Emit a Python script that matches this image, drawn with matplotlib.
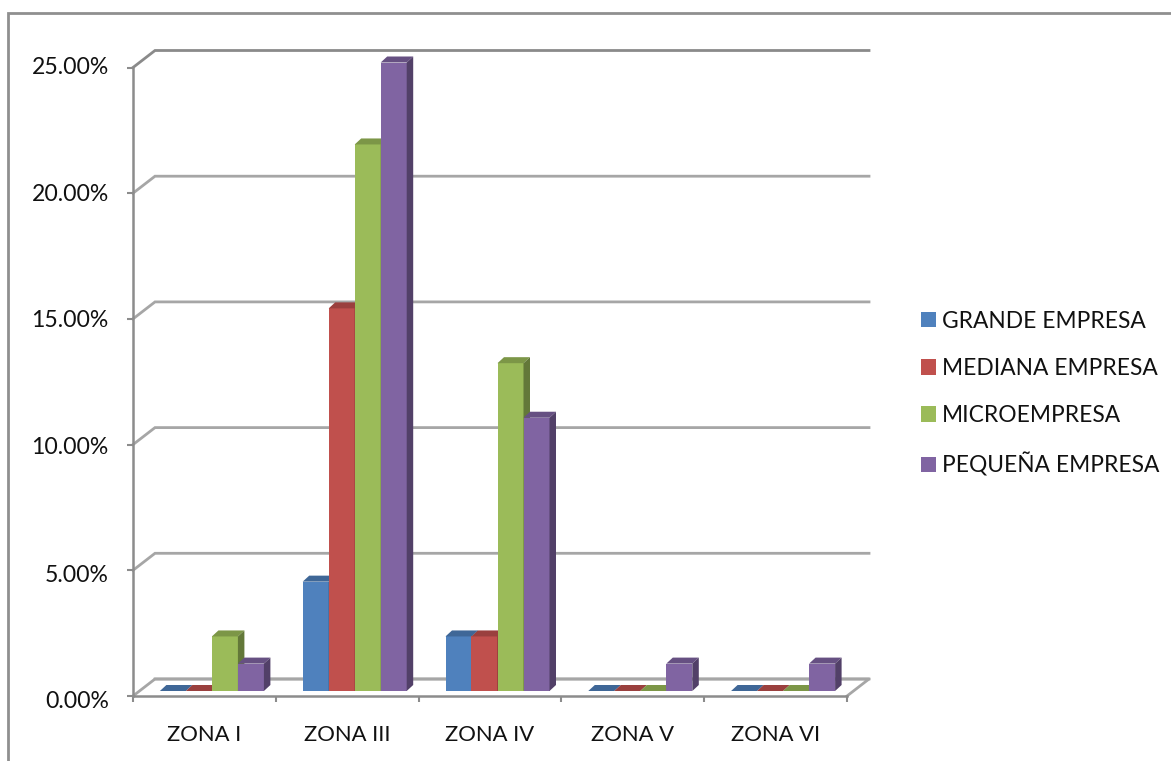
import matplotlib
matplotlib.use('Agg')
import matplotlib.pyplot as plt
import matplotlib.colors as mc
from matplotlib.patches import Polygon, Patch
from matplotlib.lines import Line2D
from matplotlib.transforms import ScaledTranslation
import numpy as np

zonas = ['ZONA I', 'ZONA III', 'ZONA IV', 'ZONA V', 'ZONA VI']
grande = [0, 4.35, 2.17, 0, 0]
mediana = [0, 15.22, 2.17, 0, 0]
micro = [2.17, 21.74, 13.04, 0, 0]
pequena = [1.09, 25.0, 10.87, 1.09, 1.09]
nombres = ['GRANDE EMPRESA', 'MEDIANA EMPRESA', 'MICROEMPRESA', 'PEQUEÑA EMPRESA']
series = [grande, mediana, micro, pequena]
colores = ['#4F81BD', '#C0504D', '#9BBB59', '#8064A2']
yticks = [0, 5, 10, 15, 20, 25]

plt.rcParams['font.family'] = ['Lato', 'DejaVu Sans']
W, H = 1171, 761
fig = plt.figure(figsize=(W / 100, H / 100), dpi=100)
# el marco solo se ve arriba y a la izquierda
fig.add_artist(Line2D([7.5 / W, 7.5 / W, 1], [0, 1 - 13 / H, 1 - 13 / H], transform=fig.transFigure,
                      color='#8f8f8f', lw=2, solid_joinstyle='miter'))

# eje frontal: x 133-847, y 696-67.5
ax = fig.add_axes([133 / W, 1 - 696 / H, 714 / W, 628.5 / H])
ax.set_xlim(0, 5)
ax.set_ylim(0, 25)
ax.patch.set_alpha(0)
px = 5 / 714
py = 25 / 628.5
gris = '#8c8c8c'

# paredes de fondo
dx = 22 * px
dy = 17 * py
for v in yticks:
    c = '#8a8a8a' if v == 25 else '#a6a6a6'
    ax.plot([0, dx, 5 + dx], [v, v + dy, v + dy], color=c, lw=2, clip_on=False, zorder=1,
            solid_joinstyle='miter')
ax.plot([dx, 5 + dx, 5], [dy, dy, 0], color='#a6a6a6', lw=2, clip_on=False, zorder=1)

# barras con falsa profundidad
ancho = 26 * px
base = 5 * py
prof_x = 6.5 * px
prof_y = 6 * py
x = np.arange(len(zonas)) + 0.5 + 7.5 * px
for i, (vals, col) in enumerate(zip(series, colores)):
    xs = x + (i - 1.5) * ancho
    ax.bar(xs, vals, ancho, bottom=base, color=col, zorder=3 + i, clip_on=False)
    top_c = np.array(mc.to_rgb(col)) * 0.80
    side_c = np.array(mc.to_rgb(col)) * 0.64
    for xc, v in zip(xs, vals):
        l = xc - ancho / 2
        r = xc + ancho / 2
        t = v + base
        ax.add_patch(Polygon([(l, t), (l + prof_x, t + prof_y), (r + prof_x, t + prof_y), (r, t)],
                             fc=top_c, ec='none', zorder=3 + i, clip_on=False))
        if v > 0:
            ax.add_patch(Polygon([(r, base), (r + prof_x, base + prof_y), (r + prof_x, t + prof_y), (r, t)],
                                 fc=side_c, ec='none', zorder=3 + i, clip_on=False))

for s in ['top', 'right']:
    ax.spines[s].set_visible(False)
for s in ['left', 'bottom']:
    ax.spines[s].set_color(gris)
    ax.spines[s].set_linewidth(1.8)
    ax.spines[s].set_zorder(2)

ax.set_yticks(yticks)
ax.set_yticklabels(['%.2f%%' % v for v in yticks], fontsize=16.6, color='#111111')
ax.set_xticks(range(6))
ax.set_xticklabels([])
ax.set_xticks(np.arange(5) + 0.5, zonas, minor=True, fontsize=15.8, color='#111111')
ax.tick_params(axis='both', which='major', color=gris, width=1.5, length=4.5)
ax.tick_params(axis='x', which='minor', length=0, pad=21)
ax.tick_params(axis='y', pad=13)
desp = {0: -3, 5: -3, 10: -1, 20: 1, 25: 2}
for lab, v in zip(ax.get_yticklabels(), yticks):
    if v in desp:
        lab.set_transform(lab.get_transform() + ScaledTranslation(0, desp[v] / 100, fig.dpi_scale_trans))

handles = [Patch(fc=c, ec='none') for c in colores]
ax.legend(handles, nombres, loc='center left', bbox_to_anchor=(900 / W, 1 - 393.5 / H),
          bbox_transform=fig.transFigure, frameon=False, fontsize=16.4, labelcolor='#111111',
          handlelength=0.66, handleheight=0.66, handletextpad=0.27, labelspacing=1.15)

fig.savefig('out.png', dpi=100, facecolor='white')
